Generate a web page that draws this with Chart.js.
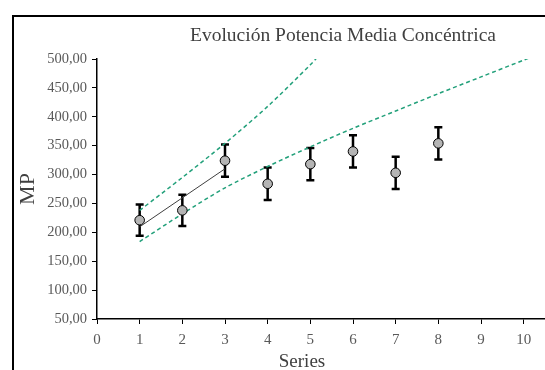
<!DOCTYPE html>
<html>
<head>
<meta charset="utf-8">
<script src="https://cdn.jsdelivr.net/npm/chart.js@4"></script>
<style>
    html, body { margin: 0; padding: 0; background: #fff; }
    #wrap { width: 545px; height: 370px; position: relative; }
</style>
</head>
<body>
<div id="wrap"><canvas id="chart" width="545" height="370"></canvas></div>
<script>
// Series number and mean power (MP) with its error
const seriesX = [1, 2, 3, 4, 5, 6, 7, 8];
const meanPower = [221, 238, 324, 284, 318, 340, 303, 354];
const powerError = [27, 27, 28, 28, 28, 28, 28, 28];

// Trend over the first three series
const trendX = [1, 3];
const trendY = [209.5, 310];

// Confidence bands (dashed green)
const upperBandX = [1, 2, 3, 4, 5, 5.25];
const upperBand = [238, 295, 354, 418, 490, 510];
const lowerBandX = [1, 2, 3, 4, 5, 6, 7, 8, 9, 10, 10.5];
const lowerBand = [184, 232, 277, 314, 348, 380, 410, 440, 469, 498, 512];

const xTicks = [0, 1, 2, 3, 4, 5, 6, 7, 8, 9, 10];
const yTicks = [50, 100, 150, 200, 250, 300, 350, 400, 450, 500];

const chartTitle = 'Evolución Potencia Media Concéntrica';
const xTitle = 'Series';
const yTitle = 'MP';

const serif = "'Liberation Serif', 'DejaVu Serif', serif";
const green = '#22a07a';

function toPoints(xs, ys) {
    return xs.map((x, i) => ({ x: x, y: ys[i] }));
}

// Frame, title and x title drawn on the canvas
const decorPlugin = {
    id: 'decor',
    beforeDraw(chart) {
        const ctx = chart.ctx;
        ctx.save();
        ctx.fillStyle = '#fff';
        ctx.fillRect(0, 0, chart.width, chart.height);
        ctx.strokeStyle = '#000';
        ctx.lineWidth = 2;
        ctx.strokeRect(13, 16, 560, 400);
        ctx.restore();
    },
    afterDraw(chart) {
        const ctx = chart.ctx;
        ctx.save();
        ctx.fillStyle = '#404040';
        ctx.textAlign = 'center';
        ctx.textBaseline = 'alphabetic';
        ctx.font = '19.5px ' + serif;
        ctx.fillText(chartTitle, 343, 41);
        ctx.font = '19px ' + serif;
        ctx.fillText(xTitle, 302, 367);
        ctx.restore();
    }
};

// Vertical error bars from the data arrays
const errorBarPlugin = {
    id: 'errorBars',
    beforeDatasetsDraw(chart) {
        const ctx = chart.ctx;
        const xs = chart.scales.x;
        const ys = chart.scales.y;
        ctx.save();
        ctx.strokeStyle = '#000';
        ctx.lineWidth = 2.5;
        seriesX.forEach((sx, i) => {
            const px = xs.getPixelForValue(sx);
            const top = ys.getPixelForValue(meanPower[i] + powerError[i]);
            const bot = ys.getPixelForValue(meanPower[i] - powerError[i]);
            ctx.beginPath();
            ctx.moveTo(px, top);
            ctx.lineTo(px, bot);
            ctx.moveTo(px - 4, top);
            ctx.lineTo(px + 4, top);
            ctx.moveTo(px - 4, bot);
            ctx.lineTo(px + 4, bot);
            ctx.stroke();
        });
        ctx.restore();
    }
};

new Chart(document.getElementById('chart'), {
    type: 'scatter',
    data: {
        datasets: [
            {
                label: 'MP',
                data: toPoints(seriesX, meanPower),
                pointRadius: 4.8,
                pointBackgroundColor: '#b4b4b4',
                pointBorderColor: '#000',
                pointBorderWidth: 1,
                showLine: false,
                order: 0
            },
            {
                label: 'Tendencia',
                data: toPoints(trendX, trendY),
                showLine: true,
                borderColor: '#404040',
                borderWidth: 1,
                pointRadius: 0,
                order: 1
            },
            {
                label: 'Límite superior',
                data: toPoints(upperBandX, upperBand),
                showLine: true,
                borderColor: green,
                borderWidth: 1.5,
                borderDash: [4, 3],
                tension: 0.3,
                pointRadius: 0,
                order: 2
            },
            {
                label: 'Límite inferior',
                data: toPoints(lowerBandX, lowerBand),
                showLine: true,
                borderColor: green,
                borderWidth: 1.5,
                borderDash: [4, 3],
                tension: 0.3,
                pointRadius: 0,
                order: 2
            }
        ]
    },
    options: {
        responsive: false,
        animation: false,
        layout: { autoPadding: false, padding: { left: 14, top: 59, right: 0, bottom: 0 } },
        plugins: {
            legend: { display: false },
            tooltip: { enabled: false },
            title: { display: false }
        },
        scales: {
            x: {
                type: 'linear',
                min: 0,
                max: 10.5,
                afterFit: scale => {
                    scale.height = 51;
                    scale.paddingLeft = 0;
                    scale.paddingRight = 0;
                },
                afterBuildTicks: scale => { scale.ticks = xTicks.map(v => ({ value: v })); },
                border: { color: '#000', width: 1.5 },
                grid: { drawOnChartArea: false, drawTicks: true, tickLength: 5, color: '#000' },
                ticks: {
                    padding: 7,
                    color: '#595959',
                    font: { family: serif, size: 15 }
                },
                title: { display: false }
            },
            y: {
                min: 50,
                max: 500,
                afterFit: scale => { scale.width = 83; },
                afterBuildTicks: scale => { scale.ticks = yTicks.map(v => ({ value: v })); },
                border: { color: '#000', width: 1.5 },
                grid: { drawOnChartArea: false, drawTicks: true, tickLength: 5, color: '#000' },
                ticks: {
                    padding: 5,
                    color: '#595959',
                    font: { family: serif, size: 14.5 },
                    callback: value => value.toFixed(2).replace('.', ',')
                },
                title: {
                    display: true,
                    text: yTitle,
                    color: '#404040',
                    font: { family: serif, size: 22 },
                    padding: { top: 1, bottom: 0 }
                }
            }
        }
    },
    plugins: [decorPlugin, errorBarPlugin]
});
</script>
</body>
</html>
